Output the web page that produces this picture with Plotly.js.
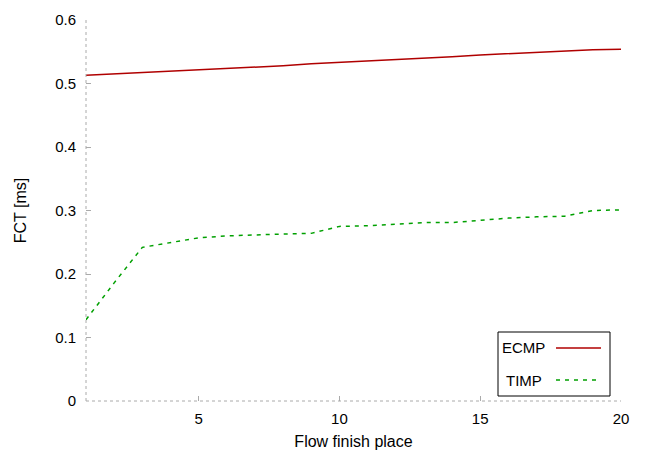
<!DOCTYPE html>
<html>
<head>
<meta charset="utf-8">
<script src="https://cdn.plot.ly/plotly-3.0.1.min.js"></script>
<style>html,body{margin:0;padding:0;background:#fff;}#chart{width:645px;height:451px;}</style>
</head>
<body>
<div id="chart"></div>
<script>
const places = [1,2,3,4,5,6,7,8,9,10,11,12,13,14,15,16,17,18,19,20];
const ecmp = [0.513,0.515,0.518,0.520,0.522,0.524,0.526,0.528,0.531,0.533,0.535,0.538,0.540,0.542,0.545,0.547,0.550,0.552,0.553,0.554];
const timp = [0.128,0.186,0.242,0.250,0.257,0.260,0.262,0.263,0.264,0.275,0.276,0.278,0.281,0.281,0.285,0.288,0.290,0.291,0.300,0.301];
const seriesNames = ['ECMP','TIMP'];
const xTicks = [5,10,15,20];
const yTicks = [0,0.1,0.2,0.3,0.4,0.5,0.6];

const red = '#b00000', green = '#00a000';
const fam = 'Liberation Sans, Arial, sans-serif';
const font = {family:fam, size:15, color:'#000'};
const titleFont = {family:fam, size:16, color:'#000'};

const traces = [
  {x:places, y:ecmp, name:seriesNames[0], mode:'lines', line:{color:red, width:1.5}, showlegend:false},
  {x:places, y:timp, name:seriesNames[1], mode:'lines', line:{color:green, width:1.5, dash:'4px,5px'}, showlegend:false}
];

const axisCommon = {
  showgrid:false, zeroline:false, showline:false,
  ticks:'inside', ticklen:5, tickcolor:'#aaa', tickwidth:1,
  tickfont:font
};

const px = v => (v-86)/535;
const py = v => (401-v)/381;

const layout = {
  width:645, height:451,
  margin:{l:86, r:24, t:20, b:50},
  paper_bgcolor:'#fff', plot_bgcolor:'#fff',
  font:font,
  xaxis:Object.assign({}, axisCommon, {
    range:[1,20], tickvals:xTicks, ticktext:xTicks.map(String),
    ticklabelstandoff:7,
    title:{text:'Flow finish place', font:titleFont, standoff:9}
  }),
  yaxis:Object.assign({}, axisCommon, {
    range:[0,0.6], tickvals:yTicks, ticktext:yTicks.map(v=>String(v)),
    ticklabelstandoff:9,
    title:{text:'FCT [ms]', font:titleFont, standoff:24}
  }),
  shapes:[
    {type:'line', xref:'paper', yref:'paper', x0:0, x1:1, y0:0, y1:0, line:{color:'#aaa', width:1, dash:'dot'}},
    {type:'line', xref:'paper', yref:'paper', x0:0, x1:0, y0:0, y1:1, line:{color:'#aaa', width:1, dash:'dot'}},
    {type:'rect', xref:'paper', yref:'paper', x0:px(498), x1:px(610), y0:py(396), y1:py(332), line:{color:'#000', width:1}, fillcolor:'#fff'},
    {type:'line', xref:'paper', yref:'paper', x0:px(556), x1:px(601), y0:py(348), y1:py(348), line:{color:red, width:1.5}},
    {type:'line', xref:'paper', yref:'paper', x0:px(556), x1:px(599), y0:py(380), y1:py(380), line:{color:green, width:1.5, dash:'4px,5px'}}
  ],
  annotations:[
    {xref:'paper', yref:'paper', x:px(523.5), y:py(347.5), xanchor:'center', yanchor:'middle', text:seriesNames[0], showarrow:false, font:font},
    {xref:'paper', yref:'paper', x:px(523.5), y:py(380), xanchor:'center', yanchor:'middle', text:seriesNames[1], showarrow:false, font:font}
  ]
};

Plotly.newPlot('chart', traces, layout, {displayModeBar:false, staticPlot:true});
</script>
</body>
</html>
